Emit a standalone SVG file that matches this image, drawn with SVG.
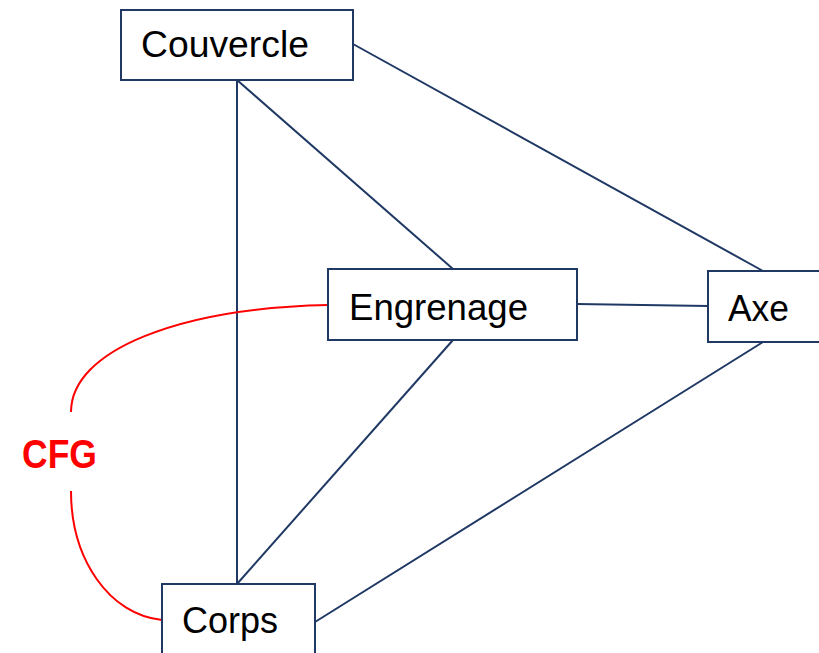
<svg xmlns="http://www.w3.org/2000/svg" width="819" height="653" viewBox="0 0 819 653">
<style>
.box{fill:#fff;stroke:#1F3864;stroke-width:2}
.lbl{font-family:"Liberation Sans",Arial,sans-serif;font-size:36px;fill:#000}
.edge{stroke:#1F3864;stroke-width:2;fill:none}
.cfg{stroke:#FF0000;stroke-width:2;fill:none}
</style>
<rect width="819" height="653" fill="#fff"/>
<g id="connectors">
<line class="edge" x1="237" y1="80" x2="237" y2="584"/>
<line class="edge" x1="237" y1="80" x2="453" y2="269"/>
<line class="edge" x1="353" y1="44" x2="763" y2="271"/>
<line class="edge" x1="577" y1="304" x2="708" y2="306"/>
<line class="edge" x1="453" y1="340" x2="237" y2="584"/>
<line class="edge" x1="763" y1="342" x2="315" y2="622"/>
<path class="cfg" d="M328,305 C180,308 71,350 71,412"/>
<path class="cfg" d="M71,491 C71,560 110,615 162,620"/>
</g>
<g id="cfg-label">
<text x="22" y="468" textLength="75" lengthAdjust="spacingAndGlyphs" font-family="Liberation Sans,Arial,sans-serif" font-weight="bold" font-size="41" fill="#FF0000">CFG</text>
</g>
<g id="couvercle">
<rect class="box" x="121" y="10" width="232" height="70"/>
<text class="lbl" x="141" y="57" textLength="168" lengthAdjust="spacingAndGlyphs">Couvercle</text>
</g>
<g id="engrenage">
<rect class="box" x="328" y="269" width="249" height="71"/>
<text class="lbl" x="349" y="320" textLength="179" lengthAdjust="spacingAndGlyphs">Engrenage</text>
</g>
<g id="axe">
<rect class="box" x="708" y="271" width="130" height="71"/>
<text class="lbl" x="728" y="321" textLength="61" lengthAdjust="spacingAndGlyphs">Axe</text>
</g>
<g id="corps">
<rect class="box" x="162" y="584" width="153" height="90"/>
<text class="lbl" x="182" y="633" textLength="96" lengthAdjust="spacingAndGlyphs">Corps</text>
</g>
</svg>
